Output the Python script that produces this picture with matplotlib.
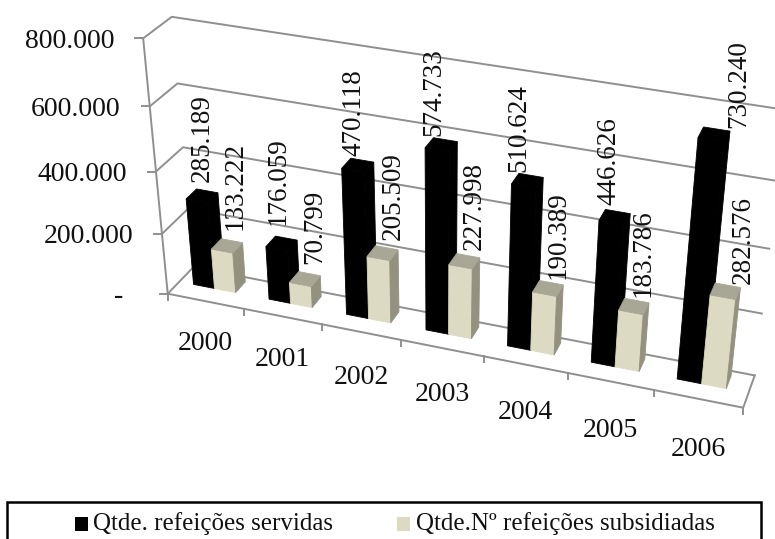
#!/usr/bin/env python3
import numpy as np
import matplotlib
matplotlib.use('Agg')
import matplotlib.pyplot as plt
from matplotlib.patches import Polygon, Rectangle

YEARS = ["2000", "2001", "2002", "2003", "2004", "2005", "2006"]
SERVIDAS = [285189, 176059, 470118, 574733, 510624, 446626, 730240]
SUBSIDIADAS = [133222, 70799, 205509, 227998, 190389, 183786, 282576]
Y_TICKS = [0, 200000, 400000, 600000, 800000]
Y_LABELS = ["-", "200.000", "400.000", "600.000", "800.000"]
LEGEND_LABELS = ["Qtde. refeições servidas", "Qtde.Nº refeições subsidiadas"]

# hand nudges for the data labels, pixels
DX_SERV = [-9, -12, -13, -16, -17, -13, 17]
DY_SERV = [-5, -10, -1, 0, 0, -3, 3]
DX_SUB = [-1, 1, 2, 2, 2, 2, 11]
DY_SUB = [-7, -6, -4, -2, 0, 0, 2]

W, H = 775, 539
YMAX = 800000
GRID = '#8f8f8f'
TEXT = '#111111'
CREAM = '#dddac4'
CREAM_TOP = '#a8a695'
CREAM_SIDE = '#94927f'

# box corners (category, depth, value) -> pixel, used to fit the perspective
CUBE = [((0, 0, 0), (169, 291)), ((0, 0, 1), (142, 39)),
        ((0, 1, 0), (192, 270)), ((0, 1, 1), (173, 16)),
        ((1, 0, 0), (743, 410)), ((1, 1, 0), (755, 373)),
        ((1, 1, 1), (785, 110))]


def fit_projection():
    A = []
    for (a, b, c), (px, py) in CUBE:
        A.append([a, b, c, 1, 0, 0, 0, 0, -px * a, -px * b, -px * c, -px])
        A.append([0, 0, 0, 0, a, b, c, 1, -py * a, -py * b, -py * c, -py])
    return np.linalg.svd(np.array(A, float))[2][-1].reshape(3, 4)


P = fit_projection()


def proj(cat, depth, value):
    p = P @ np.array([cat / len(YEARS), depth, value / YMAX, 1.0])
    return p[0] / p[2], p[1] / p[2]


def draw_bar(ax, i, left, right, d0, d1, val, front, top, side, z):
    x0, x1 = i + left, i + right
    ax.add_patch(Polygon([proj(x0, d0, 0), proj(x1, d0, 0), proj(x1, d0, val), proj(x0, d0, val)],
                         fc=front, ec=front, lw=0.6, zorder=z))
    ax.add_patch(Polygon([proj(x1, d0, 0), proj(x1, d1, 0), proj(x1, d1, val), proj(x1, d0, val)],
                         fc=side, ec=side, lw=0.6, zorder=z))
    ax.add_patch(Polygon([proj(x0, d0, val), proj(x1, d0, val), proj(x1, d1, val), proj(x0, d1, val)],
                         fc=top, ec=top, lw=0.6, zorder=z))


plt.rcParams['font.family'] = ['Liberation Serif', 'DejaVu Serif']
fig = plt.figure(figsize=(W / 100, H / 100), dpi=100)
ax = fig.add_axes([0, 0, 1, 1])
ax.set_xlim(0, W)
ax.set_ylim(H, 0)
ax.axis('off')

# walls and floor
n = len(YEARS)
for v, lab in zip(Y_TICKS, Y_LABELS):
    xs, ys = zip(proj(0, 0, v), proj(0, 1, v), proj(n, 1, v))
    ax.plot(xs, ys, color=GRID, lw=1.4, zorder=1)
    tx, ty = proj(-0.1, 0, v)
    fx, fy = proj(0, 0, v)
    ax.plot([tx, fx], [fy, fy], color=GRID, lw=1.4, zorder=1)
    ax.text(fx - (44 if v == 0 else 29), fy + 3, lab, ha='right', va='center', fontsize=20, color=TEXT)
ax.plot(*zip(proj(0, 0, 0), proj(0, 0, YMAX)), color=GRID, lw=1.4, zorder=1)
ax.plot(*zip(proj(0, 0, 0), proj(n, 0, 0), proj(n, 1, 0)), color=GRID, lw=1.4, zorder=1)
for i in range(n + 1):
    bx, by = proj(i, 0, 0)
    ax.plot([bx, bx], [by, by + 6], color=GRID, lw=1.4, zorder=1)

# bars back to front
D0, D1 = 0.45, 0.85
for i in range(n):
    draw_bar(ax, i, 0.19, 0.47, D0, D1, SERVIDAS[i], 'black', 'black', 'black', 3 + i)
    draw_bar(ax, i, 0.47, 0.75, D0, D1, SUBSIDIADAS[i], CREAM, CREAM_TOP, CREAM_SIDE, 3.5 + i)

# value labels
for i in range(n):
    x, y = proj(i + 0.36, D1, SERVIDAS[i])
    ax.text(x + 2 + DX_SERV[i], y - 4 + DY_SERV[i], f"{SERVIDAS[i] / 1000:.3f}", rotation=90,
            ha='center', va='bottom', fontsize=19.5, color=TEXT, zorder=20)
    x, y = proj(i + 0.64, D1, SUBSIDIADAS[i])
    ax.text(x + 2 + DX_SUB[i], y - 4 + DY_SUB[i], f"{SUBSIDIADAS[i] / 1000:.3f}", rotation=90,
            ha='center', va='bottom', fontsize=19.5, color=TEXT, zorder=20)

# category labels
for i, yr in enumerate(YEARS):
    x, y = proj(i + 0.5, 0, 0)
    ax.text(x, y + 42 + 1.5 * i, yr, ha='center', va='center', fontsize=20, color=TEXT)

# legend, its bottom edge falls off the picture
ax.add_patch(Rectangle((7, 502), 754, 50, fc='white', ec='black', lw=1.8, zorder=30))
ax.add_patch(Rectangle((75, 517), 13, 14, fc='black', ec='none', zorder=31))
ax.add_patch(Rectangle((397, 517), 13, 14, fc=CREAM, ec='none', zorder=31))
ax.text(93, 524, LEGEND_LABELS[0], ha='left', va='center', fontsize=18, color=TEXT, zorder=31)
ax.text(416, 524, LEGEND_LABELS[1], ha='left', va='center', fontsize=18, color=TEXT, zorder=31)

fig.savefig('out.png', dpi=100)
